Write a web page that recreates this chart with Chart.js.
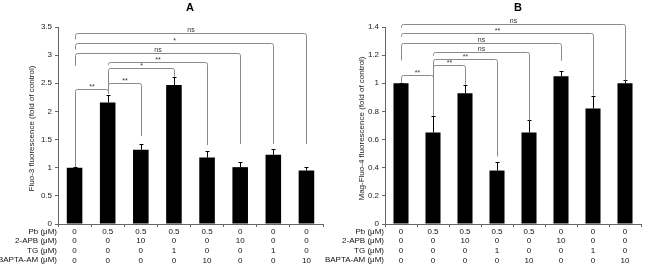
<!DOCTYPE html>
<html>
<head>
<meta charset="utf-8">
<script src="https://cdn.jsdelivr.net/npm/chart.js@4"></script>
<style>
  html, body { margin: 0; padding: 0; background: #fff; }
  #wrap { position: relative; width: 650px; height: 267px; overflow: hidden; }
  .panel { position: absolute; top: 0; width: 325px; height: 267px; }
</style>
</head>
<body>
<div id="wrap">
  <div class="panel" style="left:0"><canvas id="chartA" width="325" height="267"></canvas></div>
  <div class="panel" style="left:325px"><canvas id="chartB" width="325" height="267"></canvas></div>
</div>
<script>
// treatment table (shown under the x axis)
const rowNames = ["Pb (\u03bcM)", "2-APB (\u03bcM)", "TG (\u03bcM)", "BAPTA-AM (\u03bcM)"];
const pb = ["0", "0.5", "0.5", "0.5", "0.5", "0", "0", "0"];
const apb = ["0", "0", "10", "0", "0", "10", "0", "0"];
const tg = ["0", "0", "0", "1", "0", "0", "1", "0"];
const bapta = ["0", "0", "0", "0", "10", "0", "0", "10"];

// panel A - Fluo-3
const fluo3 = [1.0, 2.16, 1.32, 2.47, 1.18, 1.01, 1.23, 0.95];
const fluo3Err = [0.01, 0.14, 0.11, 0.15, 0.11, 0.10, 0.10, 0.07];
// brackets: [from, to, line, left leg end, right leg end, label]
const bracketsA = [
    [0, 7, 3.39, 3.28, 1.42, "ns"],
    [0, 6, 3.21, 3.10, 1.42, "*"],
    [0, 5, 3.04, 2.81, 1.42, "ns"],
    [1, 4, 2.88, 2.82, 1.40, "**"],
    [1, 3, 2.77, 2.32, 2.62, "*"],
    [1, 2, 2.50, 2.32, 1.56, "**"],
    [0, 1, 2.40, 1.01, 2.31, "**"]
];

// panel B - Mag-Fluo-4
const magFluo4 = [1.0, 0.65, 0.93, 0.38, 0.65, 1.05, 0.82, 1.0];
const magFluo4Err = [0.005, 0.12, 0.06, 0.06, 0.09, 0.035, 0.09, 0.02];
const bracketsB = [
    [0, 7, 1.418, 1.395, 1.02, "ns"],
    [0, 6, 1.357, 1.33, 0.915, "**"],
    [0, 5, 1.286, 1.163, 1.16, "ns"],
    [1, 4, 1.22, 1.195, 0.736, "ns"],
    [1, 3, 1.17, 0.77, 0.48, "**"],
    [1, 2, 1.127, 0.77, 0.99, "**"],
    [0, 1, 1.056, 1.0, 0.77, "**"]
];

const FONT = "'Liberation Sans', Arial, sans-serif";
const tickLabels = pb.map((p, i) => [p, apb[i], tg[i], bapta[i]]);

// disegna barre di errore, parentesi, intestazioni righe e titoli
const extrasPlugin = {
    id: "extras",
    afterDraw(chart, args, opts) {
        const ctx = chart.ctx;
        const x = chart.scales.x;
        const y = chart.scales.y;
        const area = chart.chartArea;
        const vals = chart.data.datasets[0].data;

        ctx.save();
        // error bars (only upper whisker shows above the black bar)
        ctx.strokeStyle = "#000";
        ctx.lineWidth = 1;
        opts.errors.forEach((e, i) => {
            const cx = Math.round(x.getPixelForValue(i)) + 0.5;
            const y0 = y.getPixelForValue(vals[i]);
            const y1 = Math.round(y.getPixelForValue(vals[i] + e)) + 0.5;
            ctx.beginPath();
            ctx.moveTo(cx, y0);
            ctx.lineTo(cx, y1);
            ctx.moveTo(cx - 2, y1);
            ctx.lineTo(cx + 2, y1);
            ctx.stroke();
        });

        // significance brackets
        const r = 2;
        ctx.strokeStyle = "#8a8a8a";
        ctx.fillStyle = "#333";
        ctx.font = "7px " + FONT;
        ctx.textAlign = "center";
        ctx.textBaseline = "alphabetic";
        opts.brackets.forEach(b => {
            const x1 = Math.round(x.getPixelForValue(b[0])) + 0.5;
            const x2 = Math.round(x.getPixelForValue(b[1])) + 0.5;
            const yl = Math.round(y.getPixelForValue(b[2])) + 0.5;
            const ya = y.getPixelForValue(b[3]);
            const yb = y.getPixelForValue(b[4]);
            ctx.beginPath();
            ctx.moveTo(x1, ya);
            ctx.lineTo(x1, yl + r);
            ctx.arcTo(x1, yl, x1 + r, yl, r);
            ctx.lineTo(x2 - r, yl);
            ctx.arcTo(x2, yl, x2, yl + r, r);
            ctx.lineTo(x2, yb);
            ctx.stroke();
            const star = b[5] !== "ns";
            ctx.fillText(b[5], (x1 + x2) / 2, yl - (star ? 1 : 2));
        });

        // row headers of the treatment table
        ctx.fillStyle = "#111";
        ctx.font = "8px " + FONT;
        ctx.textAlign = "right";
        ctx.textBaseline = "middle";
        rowNames.forEach((n, k) => {
            ctx.fillText(n, area.left - 1, opts.rowY[k]);
        });

        // y axis title
        ctx.save();
        ctx.translate(opts.titleX, (area.top + area.bottom) / 2 + 3);
        ctx.rotate(-Math.PI / 2);
        ctx.textAlign = "center";
        ctx.fillStyle = "#222";
        ctx.fillText(opts.yTitle, 0, 0);
        ctx.restore();

        // panel letter
        ctx.font = "bold 11px " + FONT;
        ctx.textAlign = "center";
        ctx.fillStyle = "#000";
        ctx.fillText(opts.letter, opts.letterX, 8);
        ctx.restore();
    }
};

function makePanel(canvasId, values, errors, brackets, opts) {
    const ctx = document.getElementById(canvasId).getContext("2d");
    return new Chart(ctx, {
        type: "bar",
        data: {
            labels: tickLabels,
            datasets: [{
                data: values,
                backgroundColor: "#000",
                borderWidth: 0,
                barPercentage: 0.47,
                categoryPercentage: 1
            }]
        },
        options: {
            responsive: false,
            animation: false,
            events: [],
            layout: { padding: { top: 27, right: opts.padRight, left: 0, bottom: 0 } },
            plugins: {
                legend: { display: false },
                tooltip: { enabled: false },
                extras: {
                    errors: errors,
                    brackets: brackets,
                    rowY: [231.75, 241.25, 250.75, 260.25],
                    yTitle: opts.yTitle,
                    titleX: opts.titleX,
                    letter: opts.letter,
                    letterX: opts.letterX
                }
            },
            scales: {
                x: {
                    offset: true,
                    afterFit: s => { s.height = 43; },
                    grid: { display: true, offset: true, drawOnChartArea: false, drawTicks: true, tickLength: 3, color: "#666" },
                    border: { display: true, color: "#666", width: 1 },
                    ticks: {
                        autoSkip: false,
                        maxRotation: 0,
                        padding: 0,
                        color: "#111",
                        font: { family: FONT, size: 8, lineHeight: 1.19 }
                    }
                },
                y: {
                    min: 0,
                    max: opts.max,
                    afterFit: s => { s.width = opts.axisLeft; },
                    grid: { display: true, drawOnChartArea: false, drawTicks: true, tickLength: 3, color: "#666" },
                    border: { display: true, color: "#666", width: 1 },
                    ticks: {
                        stepSize: opts.step,
                        padding: 3,
                        color: "#222",
                        font: { family: FONT, size: 8 },
                        callback: v => String(+v.toFixed(2))
                    }
                }
            }
        },
        plugins: [extrasPlugin]
    });
}

makePanel("chartA", fluo3, fluo3Err, bracketsA, {
    max: 3.5, step: 0.5, axisLeft: 58, padRight: 2,
    yTitle: "Fluo-3 fluorescence (fold of control)", titleX: 32,
    letter: "A", letterX: 190
});

makePanel("chartB", magFluo4, magFluo4Err, bracketsB, {
    max: 1.4, step: 0.2, axisLeft: 60, padRight: 9,
    yTitle: "Mag-Fluo-4 fluorescence (fold of control)", titleX: 37,
    letter: "B", letterX: 193
});
</script>
</body>
</html>
